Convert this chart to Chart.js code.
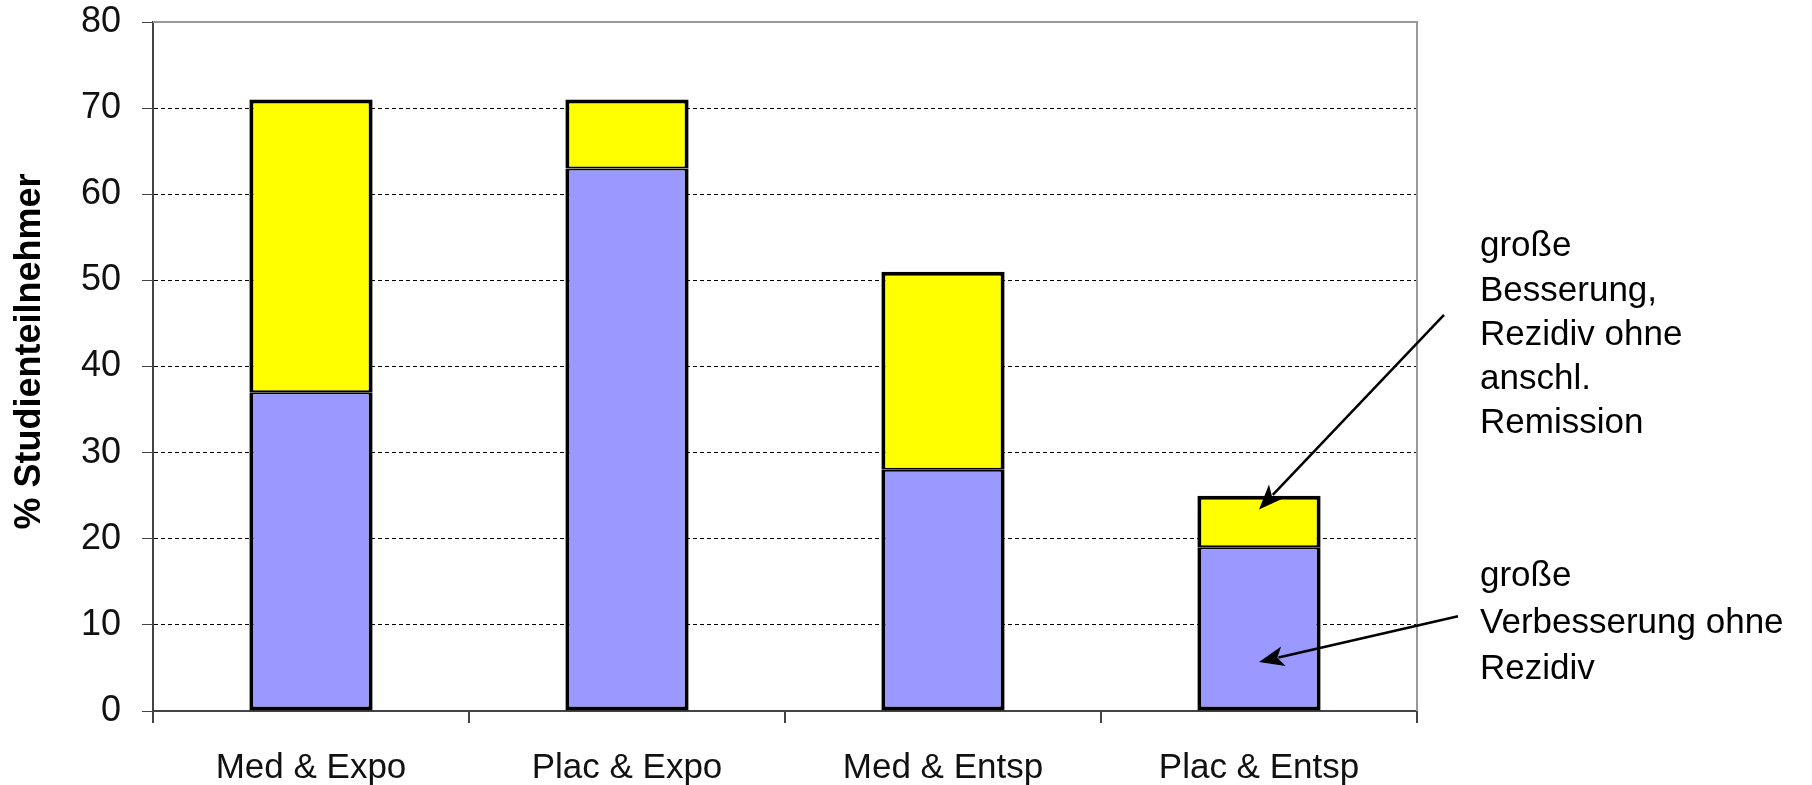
<!DOCTYPE html>
<html>
<head>
<meta charset="utf-8">
<script src="https://cdn.jsdelivr.net/npm/chart.js@4"></script>
<style>
  html, body { margin: 0; padding: 0; background: #fff; }
  #wrap { width: 1812px; height: 785px; }
</style>
</head>
<body>
<div id="wrap"><canvas id="graph1"></canvas></div>
<script>
// categories and values (percent of participants)
var categories = ["Med & Expo", "Plac & Expo", "Med & Entsp", "Plac & Entsp"];
var ohneRezidiv = [37, 63, 28, 19];      // blue part
var mitRezidiv = [34, 8, 23, 6];         // yellow part, stacked on top
var yTicks = [0, 10, 20, 30, 40, 50, 60, 70, 80];

var labelTop = ["große", "Besserung,", "Rezidiv ohne", "anschl.", "Remission"];
var labelBottom = ["große", "Verbesserung ohne", "Rezidiv"];

var FONT = "'Liberation Sans', Arial, sans-serif";

// arrows + text blocks on the right
var annotations = {
  id: "annotations",
  afterDraw(chart) {
    var ctx = chart.ctx;
    var area = chart.chartArea;
    var x = chart.scales.x, y = chart.scales.y;

    // frame: top and right border of the plot
    ctx.save();
    ctx.strokeStyle = "#999";
    ctx.lineWidth = 2;
    ctx.beginPath();
    ctx.moveTo(area.left, area.top);
    ctx.lineTo(area.right, area.top);
    ctx.lineTo(area.right, area.bottom);
    ctx.stroke();
    ctx.restore();

    function arrow(x1, y1, x2, y2) {
      var ang = Math.atan2(y2 - y1, x2 - x1);
      var len = 25, wid = 10;
      ctx.save();
      ctx.strokeStyle = "#000";
      ctx.fillStyle = "#000";
      ctx.lineWidth = 2.5;
      ctx.beginPath();
      ctx.moveTo(x1, y1);
      ctx.lineTo(x2 - Math.cos(ang) * len * 0.8, y2 - Math.sin(ang) * len * 0.8);
      ctx.stroke();
      ctx.beginPath();
      ctx.moveTo(x2, y2);
      ctx.lineTo(x2 - Math.cos(ang) * len - Math.sin(ang) * wid, y2 - Math.sin(ang) * len + Math.cos(ang) * wid);
      ctx.lineTo(x2 - Math.cos(ang) * len * 0.75, y2 - Math.sin(ang) * len * 0.75);
      ctx.lineTo(x2 - Math.cos(ang) * len + Math.sin(ang) * wid, y2 - Math.sin(ang) * len - Math.cos(ang) * wid);
      ctx.closePath();
      ctx.fill();
      ctx.restore();
    }

    var cx = x.getPixelForValue(3);
    arrow(area.right + 27, y.getPixelForValue(46), cx, y.getPixelForValue(23.4));
    arrow(area.right + 41, y.getPixelForValue(11), cx, y.getPixelForValue(5.7));

    ctx.save();
    ctx.fillStyle = "#000";
    ctx.font = "35px " + FONT;
    ctx.textAlign = "left";
    ctx.textBaseline = "middle";
    var tx = area.right + 63;
    var y0 = y.getPixelForValue(53.9);
    labelTop.forEach(function (t, i) { ctx.fillText(t, tx, y0 + i * 44.2); });
    var y1 = y.getPixelForValue(15.6);
    labelBottom.forEach(function (t, i) { ctx.fillText(t, tx, y1 + i * 46.5); });
    ctx.restore();
  }
};

var ctx = document.getElementById("graph1").getContext("2d");
const myChart = new Chart(ctx, {
  type: "bar",
  data: {
    labels: categories,
    datasets: [
      {
        label: "große Verbesserung ohne Rezidiv",
        data: ohneRezidiv,
        backgroundColor: "#9999ff",
        borderColor: "#000",
        borderWidth: { top: 2, left: 4, right: 4, bottom: 4 },
        borderSkipped: false
      },
      {
        label: "große Besserung, Rezidiv ohne anschl. Remission",
        data: mitRezidiv,
        backgroundColor: "#ffff00",
        borderColor: "#000",
        borderWidth: { top: 4, left: 4, right: 4, bottom: 2 },
        borderSkipped: false
      }
    ]
  },
  options: {
    responsive: true,
    maintainAspectRatio: false,
    animation: false,
    layout: { padding: { top: 0, right: 395, left: 0, bottom: 0 } },
    plugins: {
      legend: { display: false },
      tooltip: { enabled: false }
    },
    datasets: { bar: { categoryPercentage: 1, barPercentage: 0.39 } },
    scales: {
      x: {
        stacked: true,
        afterFit: function (s) { s.height = 74; },
        grid: { drawOnChartArea: false, tickLength: 12, color: "#444", lineWidth: 2, offset: true },
        border: { color: "#444", width: 2 },
        ticks: { color: "#111", padding: 24, font: { family: FONT, size: 35 } }
      },
      y: {
        stacked: true,
        min: 0,
        max: 80,
        afterFit: function (s) { s.width = 153; s.paddingTop = 22; },
        afterBuildTicks: function (s) { s.ticks = yTicks.map(function (v) { return { value: v }; }); },
        grid: {
          color: function (c) { return c.tick && c.tick.value === 80 ? "rgba(0,0,0,0)" : "#000"; },
          tickColor: "#444",
          tickLength: 11,
          lineWidth: 1
        },
        border: { color: "#444", width: 2, dash: [4, 3] },
        ticks: { color: "#111", padding: 21, font: { family: FONT, size: 36 } },
        title: {
          display: true,
          text: "\u00a0\u00a0\u00a0% Studienteilnehmer",
          color: "#000",
          padding: { top: 8, bottom: 0 },
          font: { family: FONT, size: 36, weight: "bold" }
        }
      }
    }
  },
  plugins: [annotations]
});
</script>
</body>
</html>
